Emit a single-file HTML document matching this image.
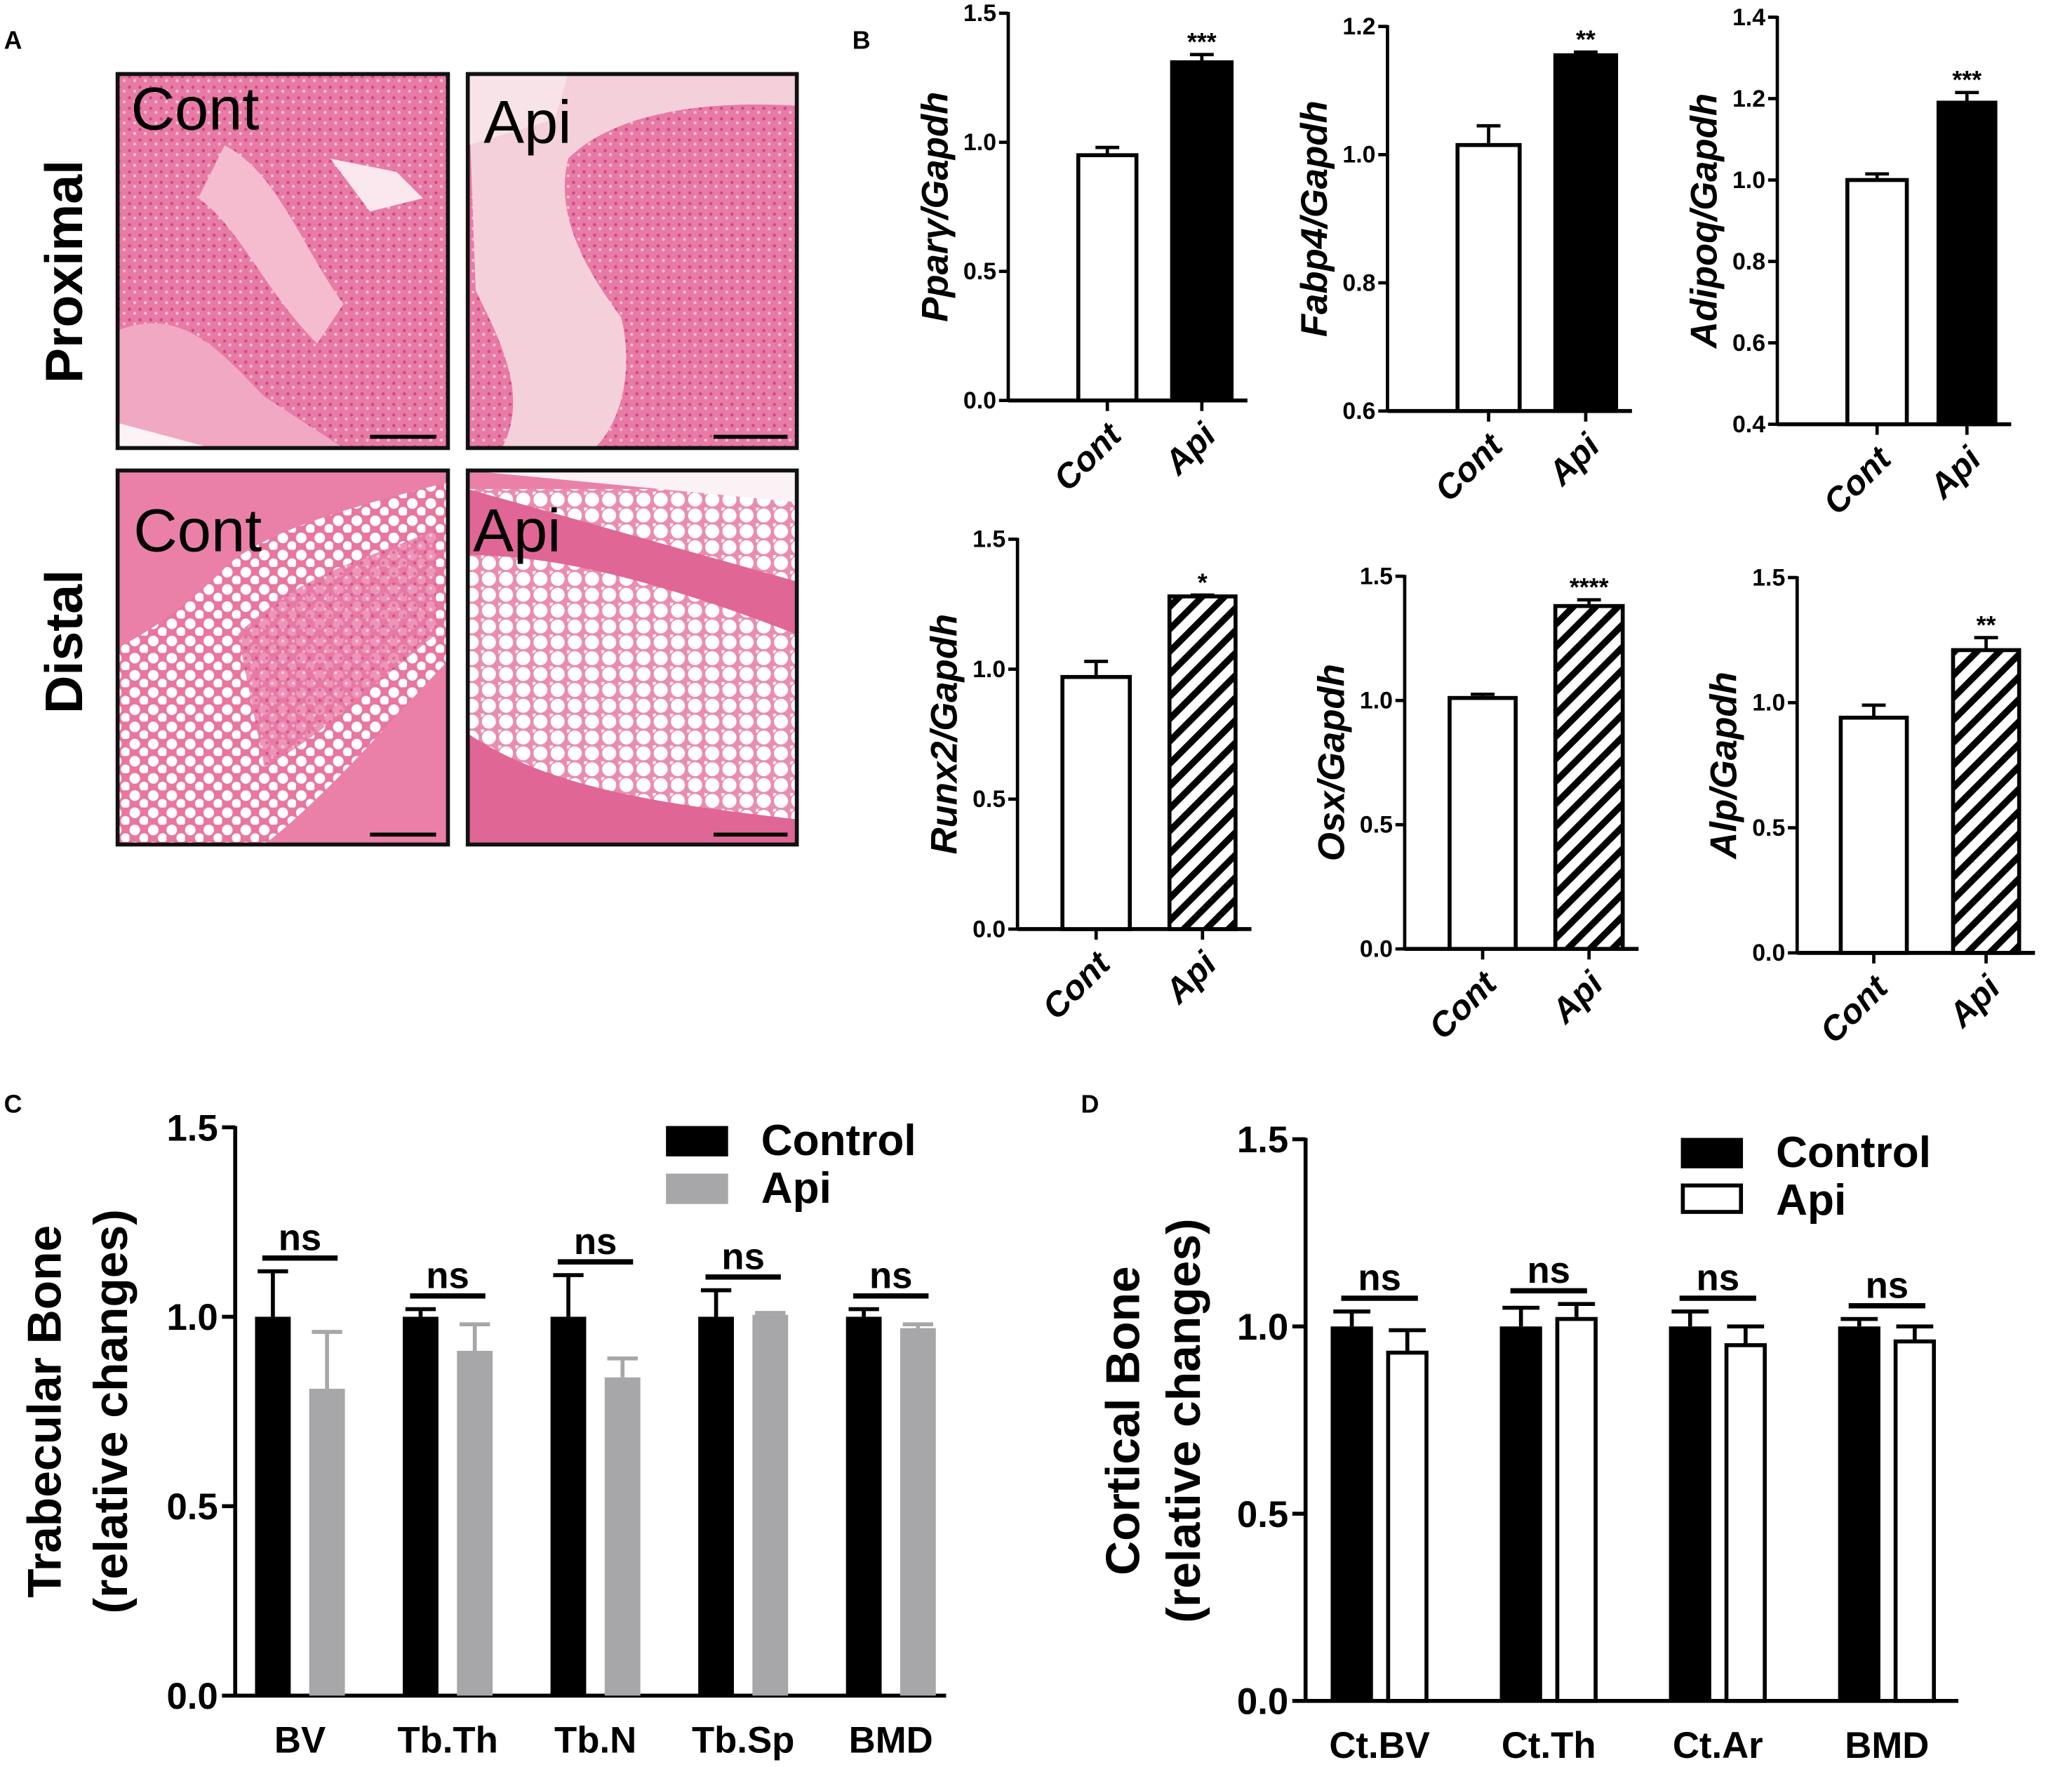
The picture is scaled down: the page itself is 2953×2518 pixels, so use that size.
<!DOCTYPE html>
<html><head><meta charset="utf-8"><style>
html,body{margin:0;padding:0;background:#fff}
svg{display:block}
text{font-family:"Liberation Sans",Arial,sans-serif;font-weight:bold;fill:#000}
</style></head><body>
<svg id="fig" xmlns="http://www.w3.org/2000/svg" width="2953" height="2518" viewBox="0 0 1568 1337">
<defs>
<pattern id="hatch" patternUnits="userSpaceOnUse" width="12" height="12" patternTransform="rotate(45)">
<rect width="12" height="12" fill="#fff"/><rect x="0" y="0" width="5" height="12" fill="#000"/></pattern>
<pattern id="marrow" patternUnits="userSpaceOnUse" width="8" height="8">
<rect width="8" height="8" fill="#e87aa6"/><circle cx="2" cy="2" r="1.2" fill="#cf4a80"/><circle cx="6" cy="5" r="1.1" fill="#f7c3d5"/></pattern>
<pattern id="fat" patternUnits="userSpaceOnUse" width="14" height="13">
<rect width="14" height="13" fill="#e8769f"/><circle cx="4" cy="4" r="4" fill="#fff"/><circle cx="11" cy="10" r="3.5" fill="#fff"/></pattern>
<pattern id="fat2" patternUnits="userSpaceOnUse" width="13" height="12">
<rect width="13" height="12" fill="#ea8cb0"/><circle cx="6" cy="6" r="5.3" fill="#fff"/><circle cx="0" cy="0" r="2.5" fill="#fff"/></pattern>
</defs>

<g id="panelA">
<text x="3" y="37" font-size="19">A</text>
<text transform="translate(62,290) rotate(-90)" font-size="40">Proximal</text>
<text transform="translate(62,540) rotate(-90)" font-size="40">Distal</text>

<g>
<rect x="89" y="56" width="250" height="283" fill="url(#marrow)"/>
<path d="M89 250 C140 230 170 270 200 300 L260 339 L89 339Z" fill="#f1a8c3"/>
<path d="M170 110 C210 130 230 190 260 230 L240 260 C200 220 180 170 150 150Z" fill="#f5bccf"/>
<path d="M89 320 L160 339 L89 339Z" fill="#fdf3f6"/>
<path d="M250 120 L300 130 L320 150 L280 160Z" fill="#fbe7ee"/>
<rect x="280" y="329" width="50" height="3" fill="#000"/>
<text x="99" y="98" font-size="46" style="font-weight:normal">Cont</text>
<rect x="89" y="56" width="250" height="283" fill="none" stroke="#111" stroke-width="3"/>
</g>
<g>
<rect x="354" y="56" width="249" height="283" fill="url(#marrow)"/>
<path d="M354 56 L603 56 L603 80 C520 75 460 90 430 120 C420 160 440 200 470 240 C480 280 470 320 450 339 L380 339 C400 300 380 260 360 220Z" fill="#f4d0da"/>
<path d="M354 56 L430 56 L420 90 L354 110Z" fill="#f8e3e8"/>
<rect x="540" y="329" width="56" height="3" fill="#000"/>
<text x="366" y="108" font-size="46" style="font-weight:normal">Api</text>
<rect x="354" y="56" width="249" height="283" fill="none" stroke="#111" stroke-width="3"/>
</g>
<g>
<rect x="89" y="356" width="250" height="283" fill="url(#fat)"/>
<path d="M89 356 L339 356 L339 365 C280 380 200 400 170 430 C140 460 110 480 89 490Z" fill="#ea80a8"/>
<path d="M339 500 L339 639 L200 639 C250 600 300 540 339 500Z" fill="#ea80a8"/>
<path d="M180 480 C230 430 290 420 330 400 L330 480 C280 520 240 560 200 580Z" fill="url(#marrow)" opacity="0.8"/>
<rect x="280" y="630" width="50" height="3" fill="#000"/>
<text x="101" y="417" font-size="46" style="font-weight:normal">Cont</text>
<rect x="89" y="356" width="250" height="283" fill="none" stroke="#111" stroke-width="3"/>
</g>
<g>
<rect x="354" y="356" width="249" height="283" fill="url(#fat2)"/>
<path d="M354 356 L603 356 L603 370 L354 370Z" fill="#ea80a8"/>
<path d="M354 356 L603 356 L603 380 Z" fill="#fbf2f5"/>
<path d="M354 370 L603 440 L603 480 C500 440 420 420 354 420Z" fill="#e06696"/>
<path d="M354 555 C420 600 520 610 603 620 L603 639 L354 639Z" fill="#e06696"/>
<rect x="540" y="630" width="56" height="3" fill="#000"/>
<text x="358" y="417" font-size="46" style="font-weight:normal">Api</text>
<rect x="354" y="356" width="249" height="283" fill="none" stroke="#111" stroke-width="3"/>
</g>
</g>

<text x="645" y="37" font-size="19">B</text>
<text x="3" y="842" font-size="19">C</text>
<text x="818" y="842" font-size="19">D</text>
<g id="charts"></g>
</svg>
<script>
// Panel B data
const geneNames = ["Ppar\u03b3","Fabp4","Adipoq","Runx2","Osx","Alp"];
const contValues = [0.95, 1.015, 1.0, 0.97, 1.01, 0.94];
const contErrors = [0.03, 0.03, 0.015, 0.06, 0.015, 0.05];
const apiValues = [1.31, 1.155, 1.19, 1.28, 1.38, 1.21];
const apiErrors = [0.03, 0.005, 0.025, 0.005, 0.025, 0.05];
const stars = ["***","**","***","*","****","**"];
const yMins = [0, 0.6, 0.4, 0, 0, 0];
const yMaxs = [1.5, 1.2, 1.4, 1.5, 1.5, 1.5];
const yTicksB = [[0,0.5,1.0,1.5],[0.6,0.8,1.0,1.2],[0.4,0.6,0.8,1.0,1.2,1.4],[0,0.5,1.0,1.5],[0,0.5,1.0,1.5],[0,0.5,1.0,1.5]];
// Panel C data
const cCategories = ["BV","Tb.Th","Tb.N","Tb.Sp","BMD"];
const cControl = [1.0,1.0,1.0,1.0,1.0];
const cControlErr = [0.12,0.02,0.11,0.07,0.02];
const cApi = [0.81,0.91,0.84,1.005,0.97];
const cApiErr = [0.15,0.07,0.05,0.005,0.01];
// Panel D data
const dCategories = ["Ct.BV","Ct.Th","Ct.Ar","BMD"];
const dControl = [1.0,1.0,1.0,1.0];
const dControlErr = [0.04,0.05,0.04,0.02];
const dApi = [0.93,1.02,0.95,0.96];
const dApiErr = [0.06,0.04,0.05,0.04];
const yTicksCD = [0,0.5,1.0,1.5];

const NS="http://www.w3.org/2000/svg";
const root=document.getElementById('charts');
function mk(tag,attrs,parent){const e=document.createElementNS(NS,tag);for(const k in attrs)e.setAttribute(k,attrs[k]);(parent||root).appendChild(e);return e;}
function fmt(v){return v.toFixed(1);}

const bLayout=[
 {ax:763,top:10,bot:303,c:[816,860],a:[887,932],hatch:false},
 {ax:1050,top:20,bot:311,c:[1103,1150],a:[1177,1223],hatch:false},
 {ax:1345,top:13,bot:321,c:[1398,1443],a:[1467,1510],hatch:false},
 {ax:770,top:408,bot:703,c:[804,855],a:[885,935],hatch:true},
 {ax:1063,top:436,bot:718,c:[1097,1147],a:[1177,1228],hatch:true},
 {ax:1360,top:437,bot:721,c:[1393,1443],a:[1478,1528],hatch:true}];

geneNames.forEach((g,i)=>{
 const L=bLayout[i];
 const grp=mk('g',{});
 
 
 const y=v=>L.bot-(v-yMins[i])/(yMaxs[i]-yMins[i])*(L.bot-L.top);
 const right=L.a[1]+12;
 const ax=mk('line',{x1:L.ax,y1:L.top-1,x2:L.ax,y2:L.bot,stroke:'#000','stroke-width':2.5},grp);
 
 
 const xa=mk('line',{x1:L.ax,y1:L.bot,x2:right,y2:L.bot,stroke:'#000','stroke-width':3},grp);
 
 
 yTicksB[i].forEach(t=>{
  mk('line',{x1:L.ax-7,x2:L.ax,y1:y(t),y2:y(t),stroke:'#000','stroke-width':2.5},grp);
  const tl=mk('text',{x:L.ax-9,y:y(t)+6,'font-size':18,'text-anchor':'end'},grp);
  tl.textContent=fmt(t);
  
  
 });
 const title=mk('text',{transform:`translate(${L.ax-46},${(L.top+L.bot)/2}) rotate(-90)`,'font-size':28,'text-anchor':'middle','font-style':'italic'},grp);
 title.textContent=g+'/Gapdh';
 
 
 [[L.c,contValues[i],contErrors[i],'#fff','Cont'],[L.a,apiValues[i],apiErrors[i],L.hatch?'url(#hatch)':'#000','Api']].forEach(([xs,v,e,fill,lab],k)=>{
  const cx=(xs[0]+xs[1])/2;
  mk('line',{x1:cx,x2:cx,y1:y(v),y2:y(v+e),stroke:'#000','stroke-width':2.5},grp);
  mk('line',{x1:cx-9,x2:cx+9,y1:y(v+e),y2:y(v+e),stroke:'#000','stroke-width':2.5},grp);
  const b=mk('rect',{x:xs[0],y:y(v),width:xs[1]-xs[0],height:L.bot-y(v),fill:fill,stroke:'#000','stroke-width':3},grp);
  
  
  mk('line',{x1:cx,x2:cx,y1:L.bot,y2:L.bot+8,stroke:'#000','stroke-width':2.5},grp);
  const xl=mk('text',{transform:`translate(${cx+12},${L.bot+28}) rotate(-45)`,'font-size':26,'text-anchor':'end','font-style':'italic'},grp);
  xl.textContent=lab;
  
  
  if(k===1){const s=mk('text',{x:cx,y:y(v+e)-3,'font-size':19,'text-anchor':'middle'},grp);s.textContent=stars[i];
   
   }
 });
});

function groupChart(name,L,cats,ctrl,ctrlE,api,apiE,apiFill,legendSwatch){
 const grp=mk('g',{});
 
 
 const y=v=>L.bot-v/1.5*(L.bot-L.top);
 const ya=mk('line',{x1:L.ax,y1:L.top-1,x2:L.ax,y2:L.bot,stroke:'#000','stroke-width':3},grp);
 
 
 const xa=mk('line',{x1:L.ax,y1:L.bot,x2:L.right,y2:L.bot,stroke:'#000','stroke-width':3},grp);
 
 
 yTicksCD.forEach(t=>{
  mk('line',{x1:L.ax-10,x2:L.ax,y1:y(t),y2:y(t),stroke:'#000','stroke-width':3},grp);
  const tl=mk('text',{x:L.ax-13,y:y(t)+10,'font-size':28,'text-anchor':'end'},grp);
  tl.textContent=fmt(t);
  
  
 });
 L.titles.forEach((t,j)=>{
  const tt=mk('text',{transform:`translate(${L.titleX[j]},${L.titleY}) rotate(-90)`,'font-size':36,'text-anchor':'middle'},grp);
  tt.textContent=t;
  
  
 });
 cats.forEach((c,i)=>{
  const x0=L.start+i*L.step;
  [[x0,ctrl[i],ctrlE[i],'#000','control'],[x0+L.gap,api[i],apiE[i],apiFill,'api']].forEach(([x,v,e,fill,lab])=>{
   const cx=x+L.bw/2;
   mk('line',{x1:cx,x2:cx,y1:y(v),y2:y(v+e),stroke:fill==='#fff'?'#000':fill,'stroke-width':3},grp);
   mk('line',{x1:cx-L.bw/2+2,x2:cx+L.bw/2-2,y1:y(v+e),y2:y(v+e),stroke:fill==='#fff'?'#000':fill,'stroke-width':3},grp);
   const b=mk('rect',{x:fill==='#fff'?x+1.5:x,y:y(v),width:fill==='#fff'?L.bw-3:L.bw,height:L.bot-y(v),fill:fill,stroke:fill==='#fff'?'#000':'none','stroke-width':3},grp);
   
   
  });
  const top=Math.max(ctrl[i]+ctrlE[i],api[i]+apiE[i]);
  const ly=y(top)-10;
  mk('line',{x1:x0+L.bw/2-8,x2:x0+L.gap+L.bw/2+8,y1:ly,y2:ly,stroke:'#000','stroke-width':4},grp);
  const ns=mk('text',{x:x0+(L.gap+L.bw)/2,y:ly-6,'font-size':28,'text-anchor':'middle'},grp);
  ns.textContent='ns';
  
  
  const xl=mk('text',{x:x0+(L.gap+L.bw)/2,y:L.bot+43,'font-size':28,'text-anchor':'middle'},grp);
  xl.textContent=c;
  
  
 });
 [['Control','#000'],['Api',legendSwatch]].forEach(([lab,fill],j)=>{
  const ly=L.legY+j*36;
  const sw=mk('rect',{x:L.legX+(fill==='#fff'?1.5:0),y:ly-12,width:fill==='#fff'?44:47,height:fill==='#fff'?20:23,fill:fill,stroke:fill==='#fff'?'#000':'none','stroke-width':3},grp);
  
  
  const t=mk('text',{x:L.legX+72,y:ly+10,'font-size':33},grp);
  t.textContent=lab;
  
  
 });
}
groupChart('chart-trabecular-bone',{ax:178,top:853,bot:1283,right:716,start:193,step:111.8,gap:41,bw:27,
 titles:['Trabecular Bone','(relative changes)'],titleX:[46,96],titleY:1068,legX:504,legY:864},
 cCategories,cControl,cControlErr,cApi,cApiErr,'#a7a7a9','#a7a7a9');
groupChart('chart-cortical-bone',{ax:988,top:862,bot:1287,right:1482,start:1007,step:128,gap:42,bw:32,
 titles:['Cortical Bone','(relative changes)'],titleX:[862,908],titleY:1075,legX:1272,legY:873},
 dCategories,dControl,dControlErr,dApi,dApiErr,'#fff','#fff');
</script>
</body></html>
